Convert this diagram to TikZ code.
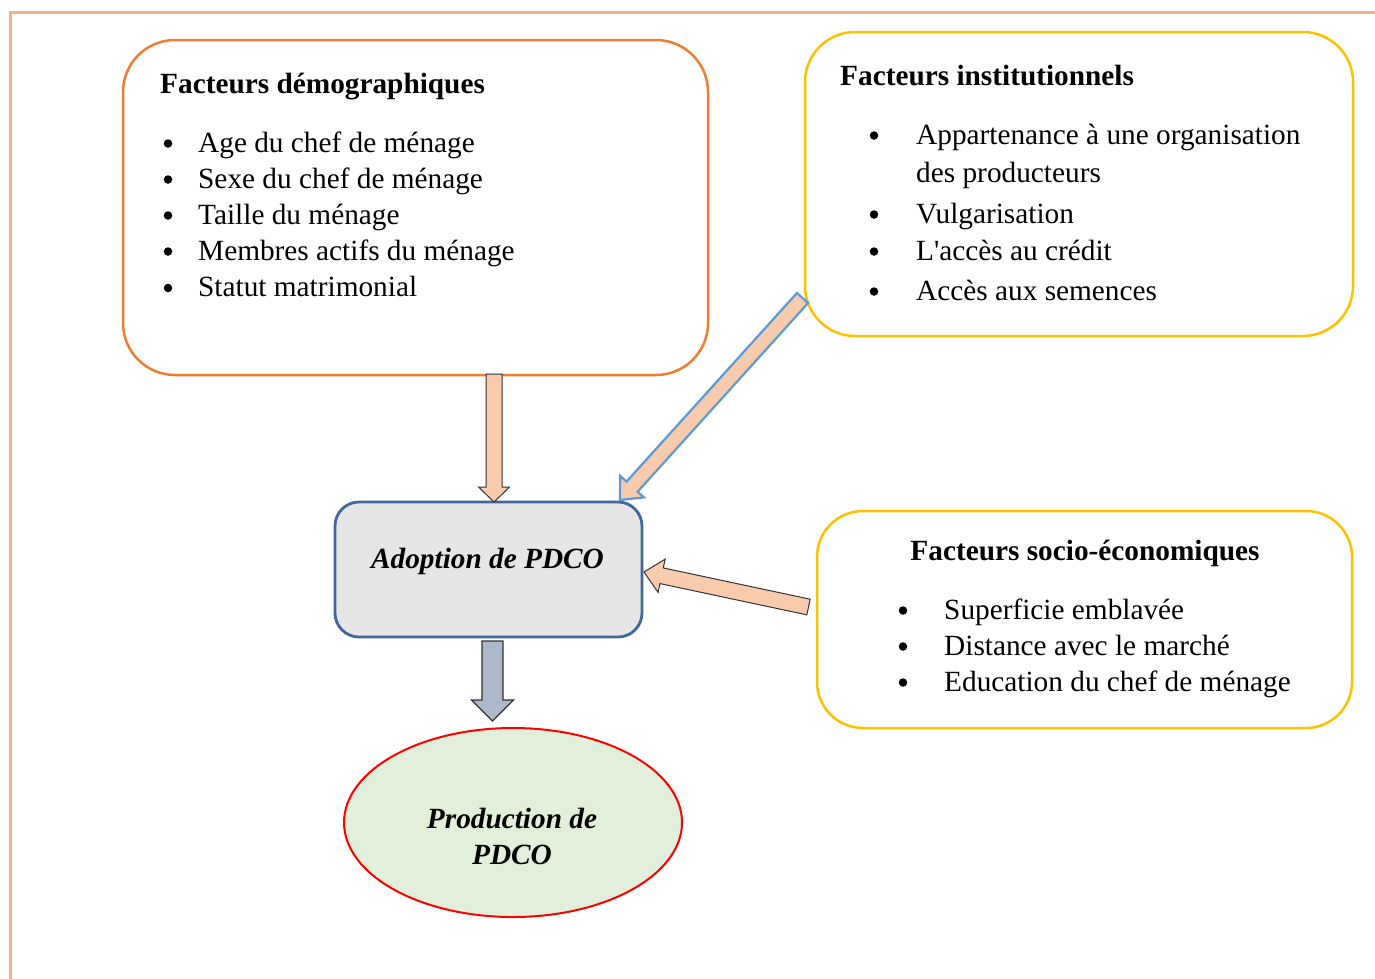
\documentclass[tikz,border=0pt]{standalone}
\usepackage{fontspec}
\setmainfont{Liberation Serif}[Ligatures=TeXOff]
\usetikzlibrary{calc,shapes.geometric}
\definecolor{frameor}{HTML}{F4B183}
\definecolor{demoor}{HTML}{ED7D31}
\definecolor{instyel}{HTML}{FFC000}
\definecolor{adopblue}{HTML}{41689C}
\definecolor{adopgray}{HTML}{E7E6E6}
\definecolor{prodgreen}{HTML}{E2EFDA}
\definecolor{peach}{HTML}{F8CBAD}
\definecolor{slate}{HTML}{ADB9CA}
\definecolor{skyblue}{HTML}{5B9BD5}
\newcommand{\blockarrow}[6]{%
  \coordinate (hbase) at ($(#3)!#6!(#2)$);
  \draw[#1] ($(#2)!#4!90:(#3)$) -- ($(hbase)!#4!90:(#3)$) -- ($(hbase)!#5!90:(#3)$) -- (#3)
    -- ($(hbase)!#5!-90:(#3)$) -- ($(hbase)!#4!-90:(#3)$) -- ($(#2)!#4!-90:(#3)$) -- cycle;
}
\tikzset{
  box/.style={draw, inner sep=0pt, line width=2.5pt},
  txt/.style={anchor=base west, inner sep=0pt, font=\fontsize{29.3}{36}\selectfont},
  ttl/.style={anchor=base west, inner sep=0pt, font=\fontsize{29.3}{36}\selectfont\bfseries},
  bul/.style={circle, fill=black, inner sep=0pt, minimum size=8.5pt},
  ctr/.style={anchor=base, inner sep=0pt, font=\fontsize{29.3}{36}\selectfont\bfseries\itshape},
  peacharrow/.style={fill=peach, draw=black!80, line width=1pt, line join=miter},
  bluearrow/.style={fill=peach, draw=skyblue, line width=2.2pt, line join=miter},
  slatearrow/.style={fill=slate, draw=black!80, line width=1.2pt, line join=miter}
}
\begin{document}
\begin{tikzpicture}[x=1pt, y=-1pt]
\useasboundingbox (0,0) rectangle (1375,978);
% page frame
\draw[frameor, line width=2.5pt] (10.5,990) -- (10.5,12.3) -- (1390,12.3);

% boxes
\node[box, draw=demoor, rounded corners=52pt, minimum width=585pt, minimum height=335pt] (demo) at (415.5,207.5) {};
\node[box, draw=instyel, rounded corners=50pt, minimum width=548pt, minimum height=304pt] (inst) at (1079,184) {};
\node[box, draw=instyel, rounded corners=46pt, minimum width=535pt, minimum height=217pt] (soc) at (1084.5,619.5) {};
\node[box, draw=adopblue, fill=adopgray, rounded corners=24pt, line width=2.8pt, minimum width=307pt, minimum height=135pt] (adop) at (488.5,569.5) {};
\node[draw=red, fill=prodgreen, ellipse, line width=2pt, inner sep=0pt, minimum width=338pt, minimum height=189pt] (prod) at (513,822.5) {};

% demographic texts
\node[ttl] (d0) at (160,93) {Facteurs démographiques};
\node[bul] (db1) at (168,143.5) {};
\node[txt] (d1) at (198,152) {Age du chef de ménage};
\node[bul] (db2) at (168,179.5) {};
\node[txt] (d2) at (198,188) {Sexe du chef de ménage};
\node[bul] (db3) at (168,215.5) {};
\node[txt] (d3) at (198,224) {Taille du ménage};
\node[bul] (db4) at (168,251.5) {};
\node[txt] (d4) at (198,260) {Membres actifs du ménage};
\node[bul] (db5) at (168,288) {};
\node[txt] (d5) at (198,296.5) {Statut matrimonial};

% institutional texts
\node[ttl] (i0) at (840,85) {Facteurs institutionnels};
\node[bul] (ib1) at (874,135.5) {};
\node[txt] (i1) at (916,144) {Appartenance à une organisation};
\node[txt] (i1b) at (916,182) {des producteurs};
\node[bul] (ib2) at (874,214.5) {};
\node[txt] (i2) at (916,223) {Vulgarisation};
\node[bul] (ib3) at (874,251.5) {};
\node[txt] (i3) at (916,260) {L'accès au crédit};
\node[bul] (ib4) at (874,291.5) {};
\node[txt] (i4) at (916,300) {Accès aux semences};

% socio-economic texts
\node[ttl, anchor=base] (s0) at (1085,560) {Facteurs socio-économiques};
\node[bul] (sb1) at (903,610.5) {};
\node[txt] (s1) at (944,619) {Superficie emblavée};
\node[bul] (sb2) at (903,646.5) {};
\node[txt] (s2) at (944,655) {Distance avec le marché};
\node[bul] (sb3) at (903,682.5) {};
\node[txt] (s3) at (944,691) {Education du chef de ménage};

% central texts
\node[ctr] (adoptxt) at (487.5,568) {Adoption de PDCO};
\node[ctr] (prod1) at (512,828) {Production de};
\node[ctr] (prod2) at (512,864) {PDCO};

% arrow end points
\coordinate (a1s) at (494,374);
\coordinate (a1e) at (494,502);
\coordinate (a2s) at (802.5,298);
\coordinate (a2e) at (620,500);
\coordinate (a3s) at (808.5,607);
\coordinate (a3e) at (644,572);
\coordinate (a4s) at (492.5,641);
\coordinate (a4e) at (492.5,721);

\blockarrow{peacharrow}{a1s}{a1e}{8pt}{15.5pt}{15pt}
\blockarrow{bluearrow}{a2s}{a2e}{7.5pt}{16pt}{18pt}
\blockarrow{peacharrow}{a3s}{a3e}{8pt}{17pt}{18pt}
\blockarrow{slatearrow}{a4s}{a4e}{10.5pt}{21pt}{21pt}
\end{tikzpicture}
\end{document}
